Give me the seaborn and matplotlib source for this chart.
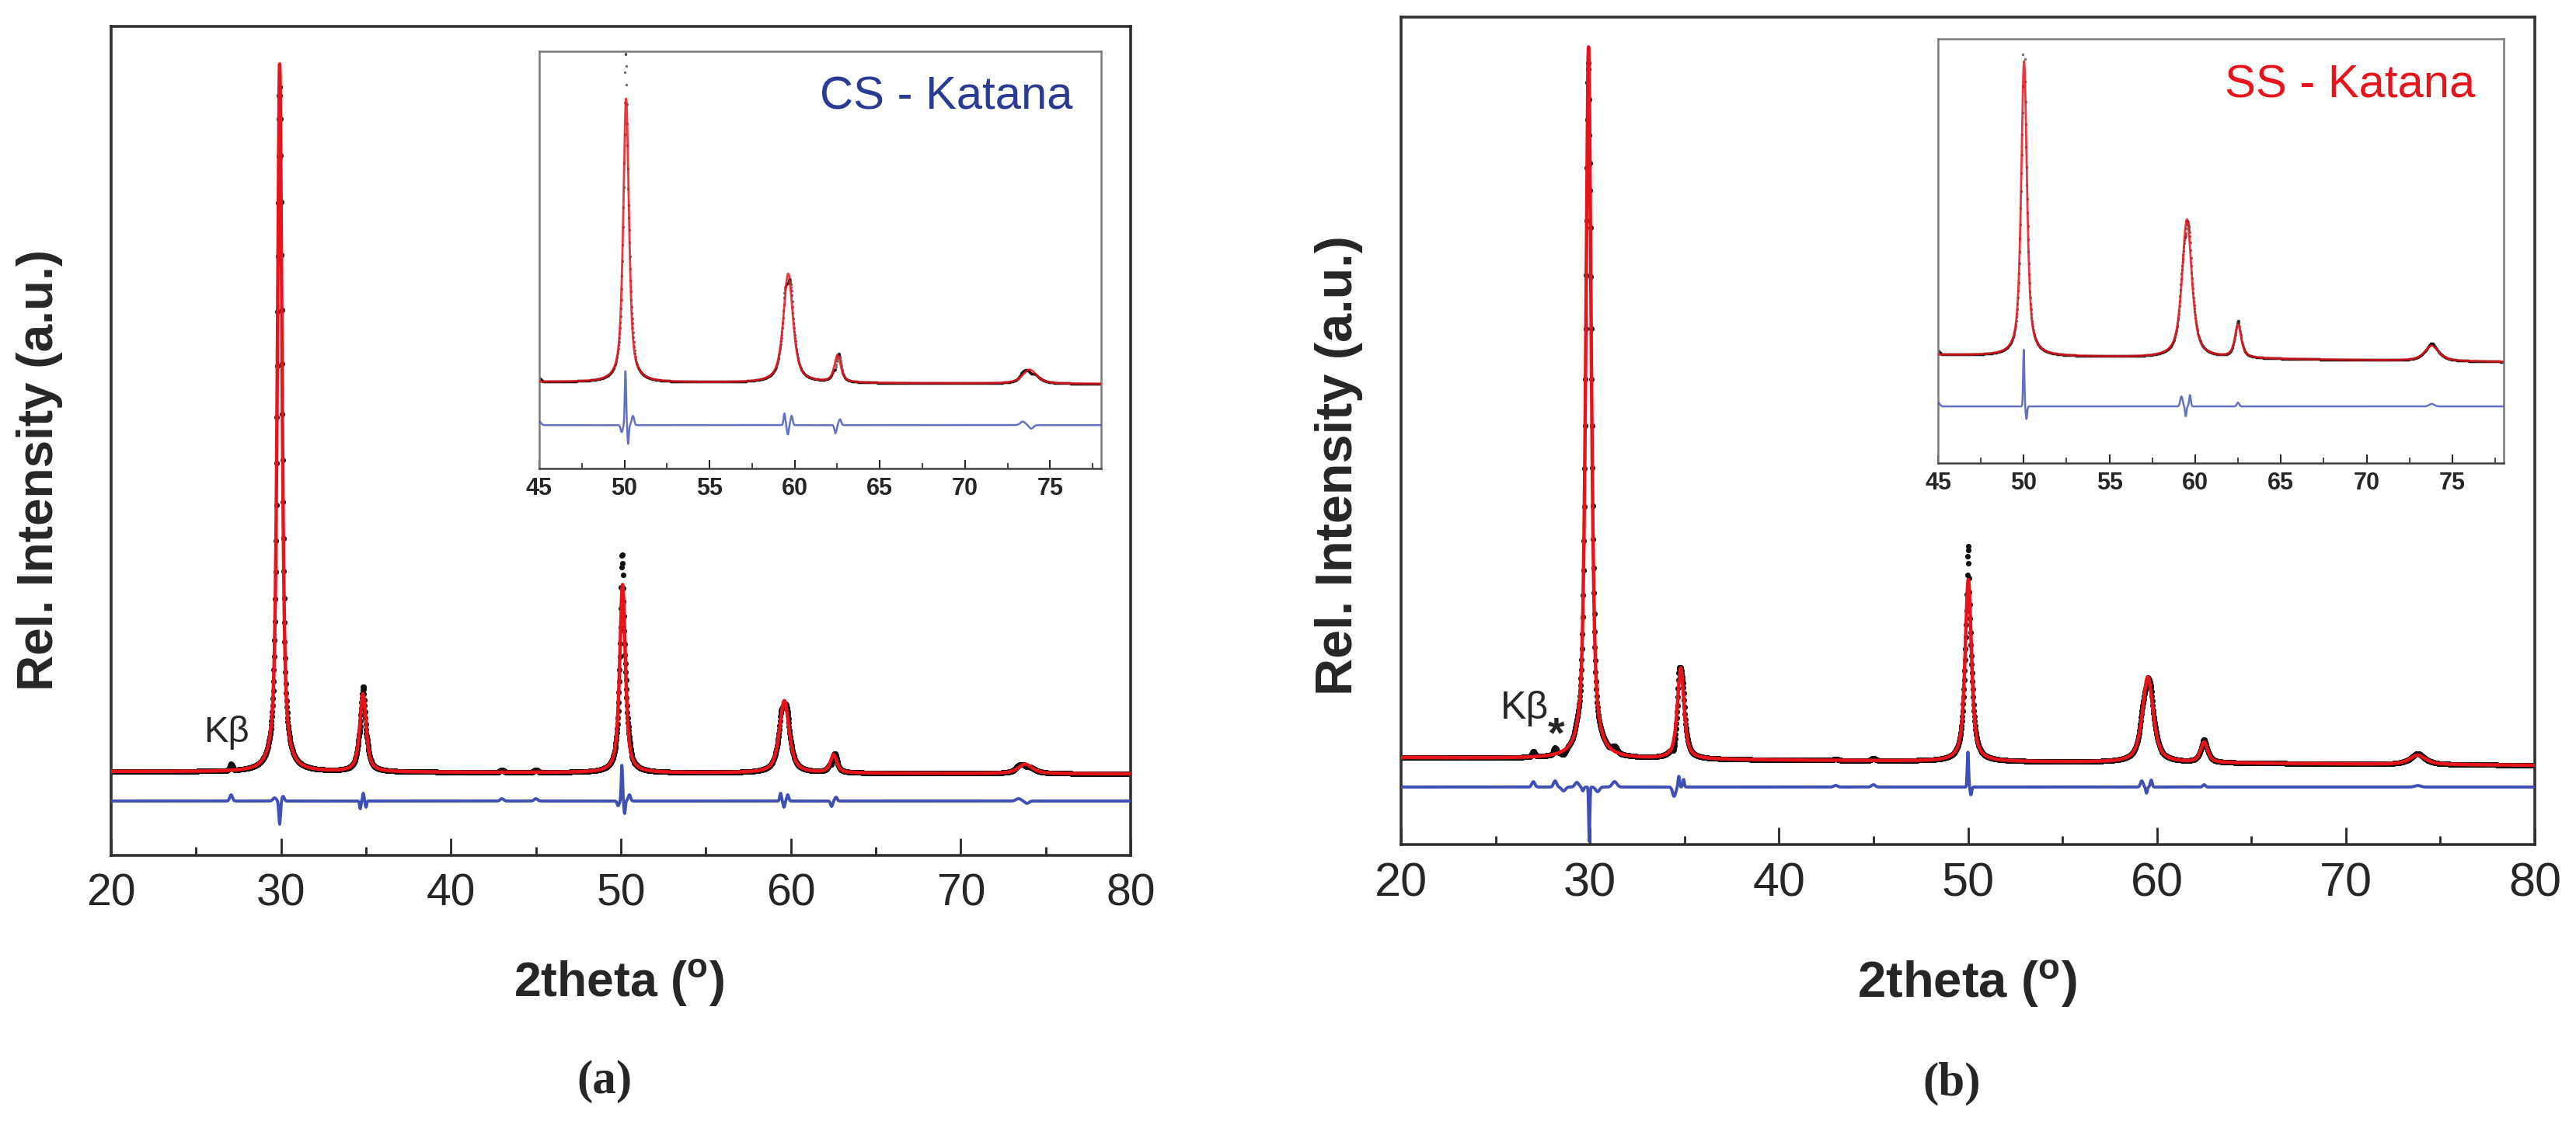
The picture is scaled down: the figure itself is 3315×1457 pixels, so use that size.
import numpy as np
import pandas as pd
import matplotlib
matplotlib.use('Agg')
import matplotlib.pyplot as plt
import seaborn as sns

sns.set_style('ticks')
plt.rcParams['font.family'] = ['Liberation Sans', 'DejaVu Sans']
plt.rcParams['mathtext.fontset'] = 'custom'
plt.rcParams['mathtext.rm'] = 'Liberation Sans'
plt.rcParams['mathtext.bf'] = 'Liberation Sans:bold'

# measurement grid (2theta step 0.02 deg)
two_theta = np.round(np.arange(20, 80.001, 0.02), 2)

# (a) CS - Katana, fitted peaks (rel. units)
cs_peak_pos = [29.92, 34.82, 50.1, 59.62, 62.52, 73.8]
cs_peak_height = [911, 100, 242, 93, 23, 12]
cs_peak_fwhm = [0.32, 0.45, 0.40, 0.68, 0.45, 1.0]
cs_background = [108, 105]          # at 20 and 80 deg
# difference curve (obs - calc) features
cs_diff_pos = [27.06, 29.62, 29.92, 30.12, 34.66, 34.84, 35.0, 43.0, 45.0,
               49.84, 50.06, 50.22, 50.5, 59.4, 59.6, 59.82, 62.4, 62.66, 73.4, 73.9]
cs_diff_amp = [8, 4, -30, 6, -10, 10, -8, 3, 3,
               -6, 46, -16, 8, 10, -8, 8, -7, 5, 3, -3]
cs_diff_width = [0.08, 0.1, 0.05, 0.07, 0.04, 0.04, 0.04, 0.1, 0.1,
                 0.06, 0.04, 0.04, 0.07, 0.05, 0.05, 0.06, 0.06, 0.07, 0.15, 0.12]
cs_diff_offset = 70
cs_inset_diff_offset = 70

# (b) SS - Katana
ss_peak_pos = [29.92, 34.8, 50.02, 59.52, 62.5, 73.8]
ss_peak_height = [916, 117, 234, 110, 26, 12]
ss_peak_fwhm = [0.34, 0.42, 0.40, 0.68, 0.45, 1.0]
ss_background = [112, 102]
ss_diff_pos = [27.0, 28.15, 28.6, 29.3, 29.62, 29.96, 30.4, 31.3, 34.45, 34.7, 34.95,
               43.0, 45.0, 50.0, 50.16, 59.2, 59.45, 59.7, 62.5, 73.8]
ss_diff_amp = [7, 8, -5, 6, -5, -70, -6, 7, -12, 14, 10,
               2, 3, 45, -10, 8, -8, 9, 3, 2]
ss_diff_width = [0.08, 0.08, 0.1, 0.1, 0.05, 0.03, 0.1, 0.12, 0.08, 0.04, 0.04,
                 0.1, 0.1, 0.035, 0.04, 0.07, 0.04, 0.05, 0.07, 0.15]
ss_diff_offset = 74
ss_inset_diff_offset = 67


def pattern(pos, height, fwhm, bg, dpos, damp, dwid, doff):
    x = two_theta
    calc = bg[0] + (bg[1] - bg[0]) * (x - 20) / 60
    for p, h, f in zip(pos, height, fwhm):
        u = (x - p) / f
        lor = 1 / (1 + 4 * u ** 2)
        gau = np.exp(-4 * np.log(2) * u ** 2)
        calc = calc + h * (0.7 * lor + 0.3 * gau)
    d = np.zeros_like(x)
    for p, a, w in zip(dpos, damp, dwid):
        d = d + a * np.exp(-0.5 * ((x - p) / w) ** 2)
    return pd.DataFrame({'two_theta': x, 'calc': calc, 'obs': calc + d, 'resid': d,
                         'diff': d + doff})


cs = pattern(cs_peak_pos, cs_peak_height, cs_peak_fwhm, cs_background,
             cs_diff_pos, cs_diff_amp, cs_diff_width, cs_diff_offset)
ss = pattern(ss_peak_pos, ss_peak_height, ss_peak_fwhm, ss_background,
             ss_diff_pos, ss_diff_amp, ss_diff_width, ss_diff_offset)
cs_in = cs.assign(diff=cs['resid'] + cs_inset_diff_offset)
ss_in = ss.assign(diff=ss['resid'] + ss_inset_diff_offset)

W, H = 3315, 1457
fig = plt.figure(figsize=(W / 100, H / 100), dpi=100)


def rect(x0, y0, x1, y1):
    return [x0 / W, 1 - y1 / H, (x1 - x0) / W, (y1 - y0) / H]


RED = '#e8141c'
BLUE = '#3f4fb4'


def draw(ax, df, inset=False):
    sns.scatterplot(data=df, x='two_theta', y='obs', ax=ax, color='#111111',
                    s=6 if inset else 26, linewidth=0,
                    alpha=0.6 if inset else 1, zorder=2)
    sns.lineplot(data=df, x='two_theta', y='calc', ax=ax, color=RED,
                 lw=2.0 if inset else 3.2, alpha=0.85 if inset else 1,
                 estimator=None, sort=False, zorder=3)
    sns.lineplot(data=df, x='two_theta', y='diff', ax=ax, color=BLUE,
                 lw=1.8 if inset else 2.8, alpha=0.8 if inset else 1,
                 estimator=None, sort=False, zorder=3)
    ax.set_xlabel('')
    ax.set_ylabel('')
    ax.set_yticks([])
    ax.set_facecolor('white')


def style_main(ax, fs):
    ax.set_xlim(20, 80)
    ax.set_xticks([20, 30, 40, 50, 60, 70, 80])
    ax.set_xticks([25, 35, 45, 55, 65, 75], minor=True)
    ax.tick_params(axis='x', which='major', direction='in', length=16, width=2,
                   labelsize=fs, pad=16, top=False)
    ax.tick_params(axis='x', which='minor', direction='in', length=8, width=2, top=False)
    for sp in ax.spines.values():
        sp.set_color('#303030')
        sp.set_linewidth(2.6)


def style_inset(ax):
    ax.set_xlim(45, 78)
    ax.set_xticks([45, 50, 55, 60, 65, 70, 75])
    ax.set_xticks([47.5, 52.5, 57.5, 62.5, 67.5, 72.5, 77.5], minor=True)
    ax.tick_params(axis='x', which='major', direction='in', length=8, width=1.5,
                   labelsize=22, pad=8)
    ax.tick_params(axis='x', which='minor', direction='in', length=5, width=1.2)
    for lab in ax.get_xticklabels():
        lab.set_fontweight('bold')
    for sp in ax.spines.values():
        sp.set_color('#7a7a7a')
        sp.set_linewidth(1.8)
    ax.spines['bottom'].set_color('#404040')


# ---- panel (a)
ax1 = fig.add_axes(rect(143, 34, 1455, 1101))
draw(ax1, cs)
ax1.set_ylim(0, 1067)
style_main(ax1, 41)
ax1.text(26.77, 158, 'K\u03b2', fontsize=34, ha='center', va='center')

in1 = fig.add_axes(rect(694, 66, 1417, 603))
draw(in1, cs_in, inset=True)
in1.set_ylim(33, 389)
style_inset(in1)
in1.text(0.95, 0.89, 'CS - Katana', transform=in1.transAxes, color='#2b3a93',
         fontsize=43, ha='right', va='center')

# ---- panel (b)
ax2 = fig.add_axes(rect(1803, 22, 3262, 1087))
draw(ax2, ss)
ax2.set_ylim(0, 1065)
style_main(ax2, 44)
ax2.text(26.54, 175, 'K\u03b2', fontsize=36, ha='center', va='center')
ax2.text(28.23, 140, '*', fontsize=40, fontweight='bold', ha='center', va='center')

in2 = fig.add_axes(rect(2494, 50, 3222, 596))
draw(in2, ss_in, inset=True)
in2.set_ylim(22, 359)
style_inset(in2)
in2.text(0.95, 0.89, 'SS - Katana', transform=in2.transAxes, color=RED,
         fontsize=43, ha='right', va='center')

# ---- axis titles and panel letters
fig.text(51 / W, 1 - 605 / H, 'Rel. Intensity (a.u.)', rotation=90, fontsize=46,
         fontweight='bold', ha='center', va='center')
fig.text(1723 / W, 1 - 599 / H, 'Rel. Intensity (a.u.)', rotation=90, fontsize=48,
         fontweight='bold', ha='center', va='center')
fig.text(796 / W, 1 - 1266 / H, r'2theta ($\mathbf{^o}$)', fontsize=45,
         fontweight='bold', ha='center', va='center')
fig.text(2531 / W, 1 - 1267 / H, r'2theta ($\mathbf{^o}$)', fontsize=47,
         fontweight='bold', ha='center', va='center')
fig.text(778 / W, 1 - 1392 / H, '(a)', fontsize=44, family='Liberation Serif',
         fontweight='bold', ha='center', va='center')
fig.text(2512 / W, 1 - 1395 / H, '(b)', fontsize=44, family='Liberation Serif',
         fontweight='bold', ha='center', va='center')

fig.savefig('out.png', dpi=100, facecolor='white')
